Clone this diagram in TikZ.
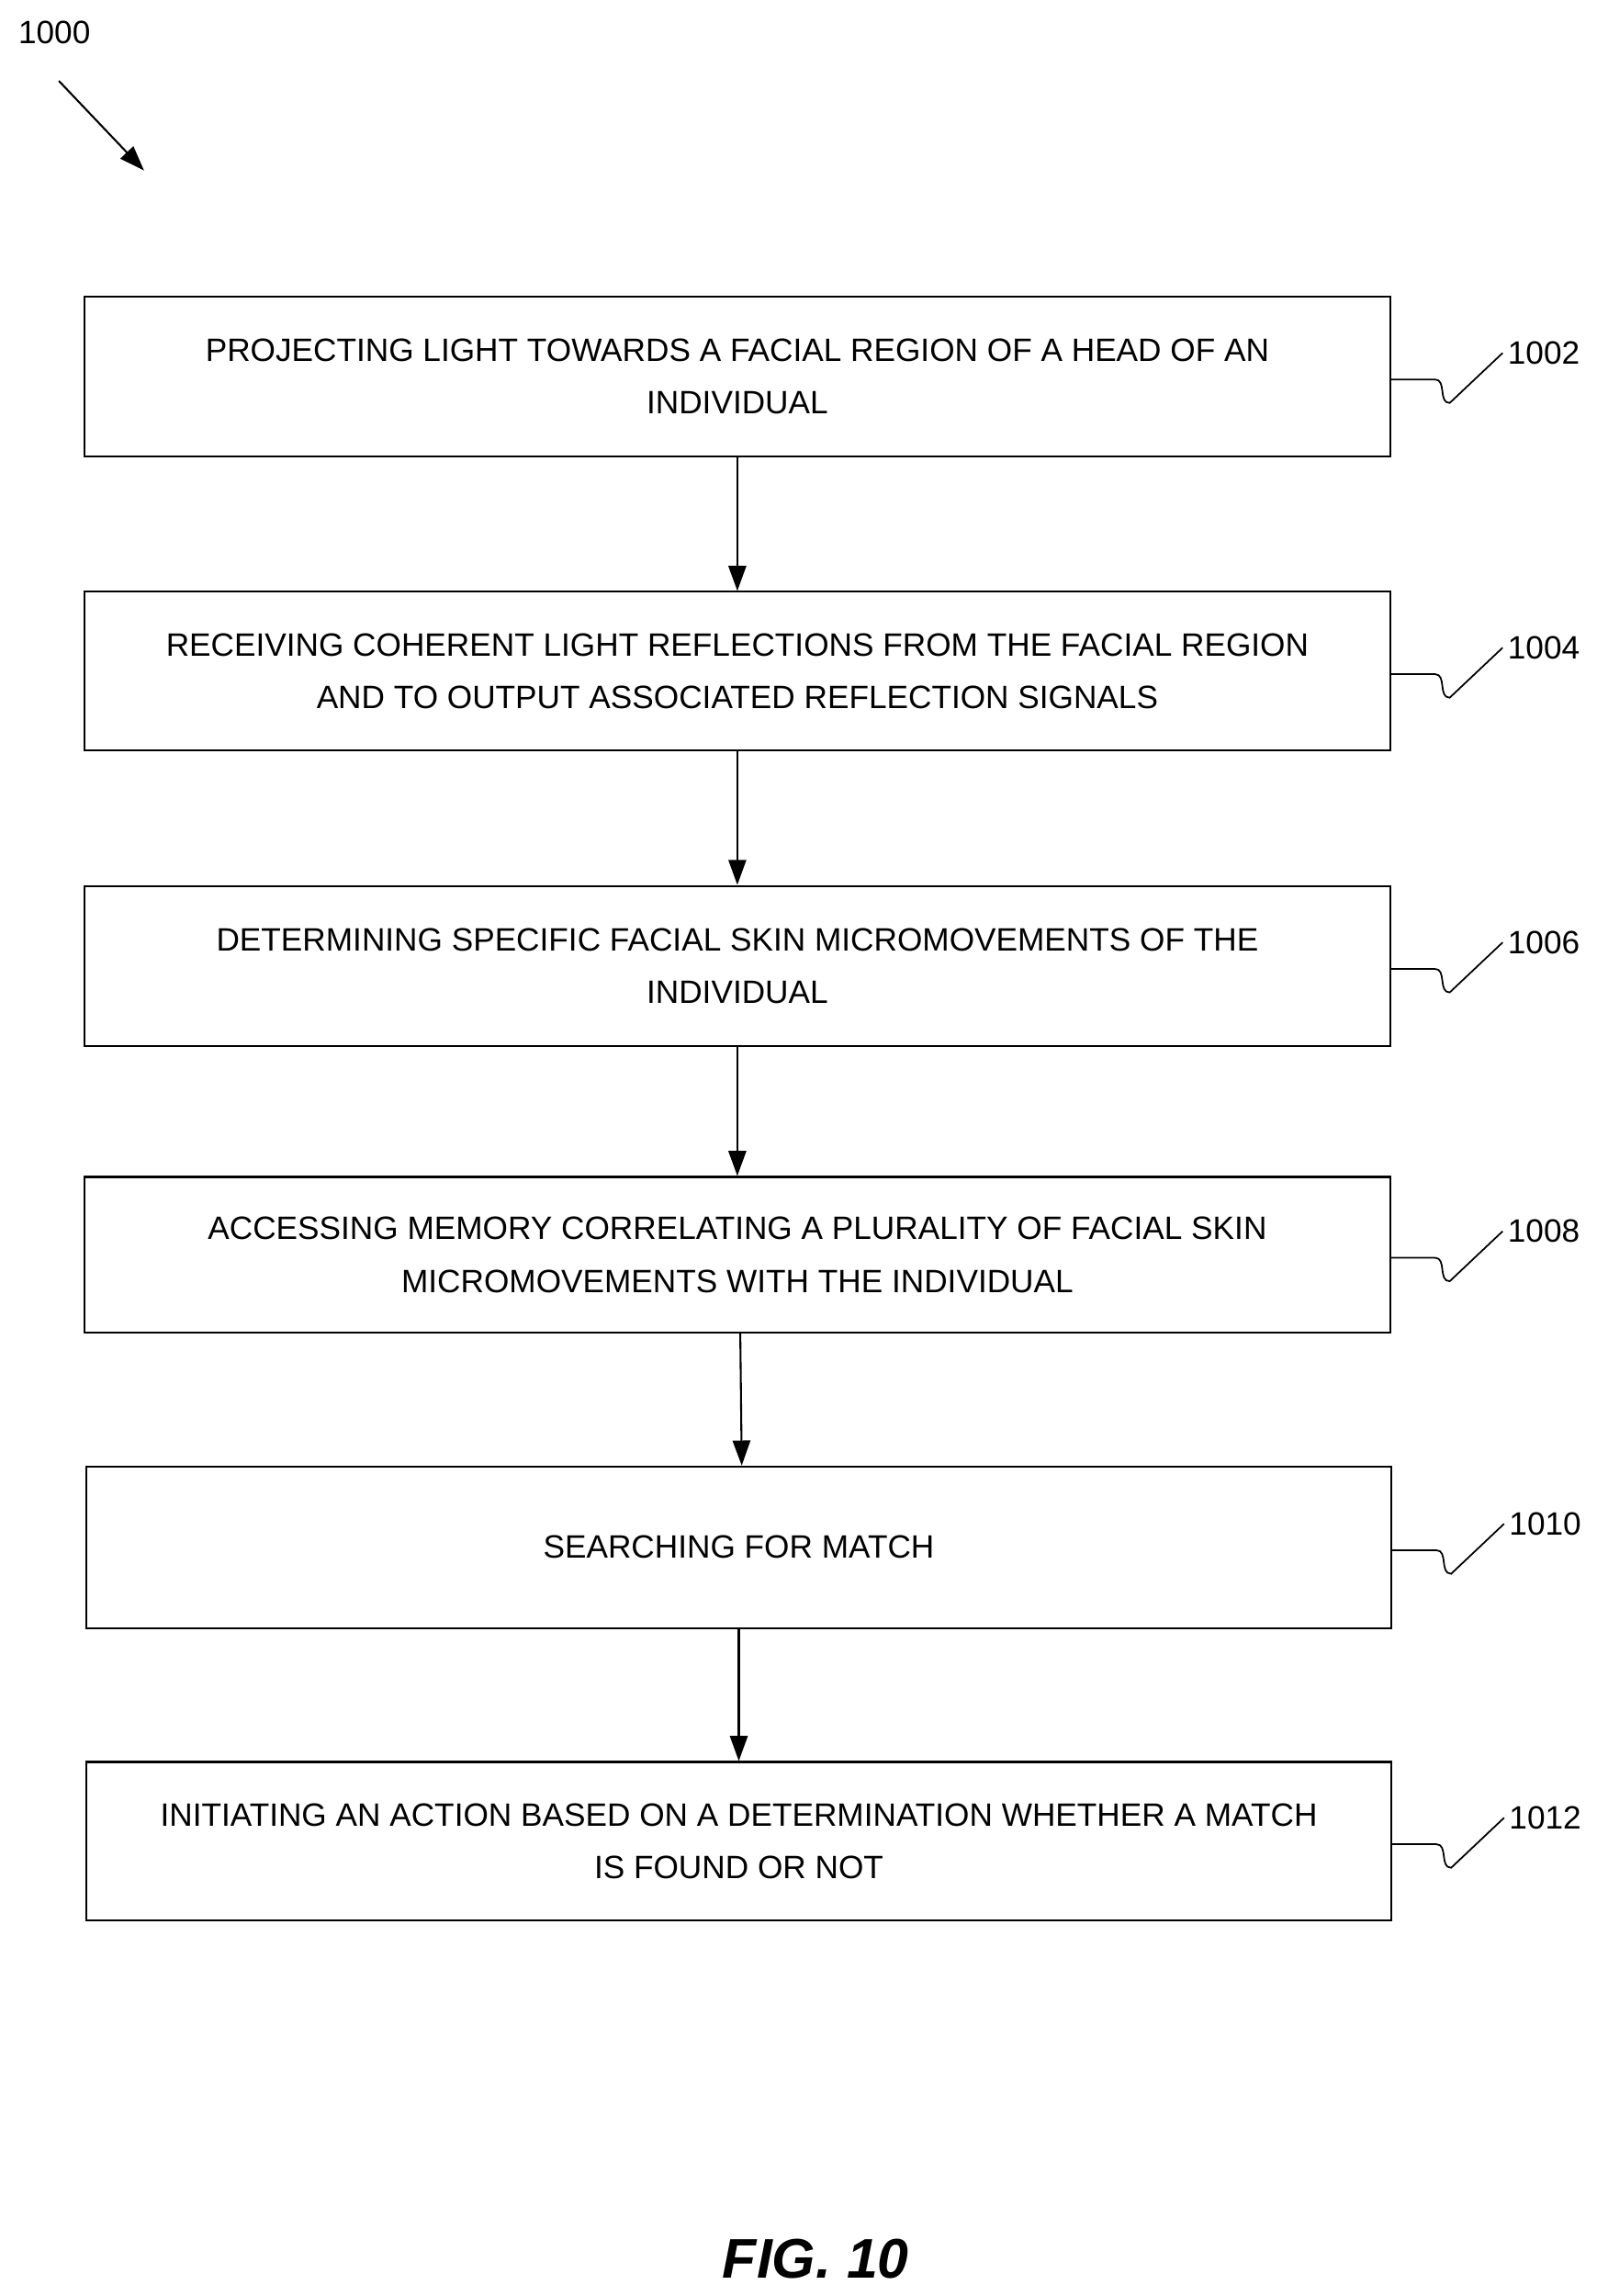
\documentclass[tikz,border=0pt]{standalone}
\usepackage{fontspec}
\setmainfont{Liberation Sans}
\usetikzlibrary{arrows.meta}
\begin{document}
\begin{tikzpicture}[x=1pt,y=-1pt,
  box/.style={draw,line width=1.3pt,minimum width=888pt,anchor=north west,inner sep=0pt,align=center,font=\fontsize{22}{36}\selectfont},
  lbl/.style={font=\fontsize{22}{26}\selectfont,anchor=west},
  arr/.style={line width=1.3pt,-{Triangle[length=17pt,width=12pt]}},
  lead/.style={line width=1.1pt}]
\useasboundingbox (0,0) rectangle (1086,1562);
\node[font=\fontsize{22}{26}\selectfont] (n1000) at (37,22) {1000};
\coordinate (a0) at (40,55); \coordinate (a1) at (98,116);
\draw[arr] (a0) -- (a1);
\def\mk#1#2#3#4#5{%
  \node[box,minimum height=#3pt] (b#1) at (#2) {#4};
  \coordinate (e#1) at ([yshift=-2pt]b#1.east);
  \node[lbl] (l#1) at ([xshift=76pt,yshift=16pt]b#1.east) {#5};
  \draw[lead] (e#1) -- ++(30,0) .. controls ++(8,0) and ++(-8,0) .. ++(10,16) -- (l#1.west);}
\mk{1}{57,201}{109}{PROJECTING LIGHT TOWARDS A FACIAL REGION OF A HEAD OF AN\\INDIVIDUAL}{1002}
\mk{2}{57,402}{108}{RECEIVING COHERENT LIGHT REFLECTIONS FROM THE FACIAL REGION\\AND TO OUTPUT ASSOCIATED REFLECTION SIGNALS}{1004}
\mk{3}{57,602}{109}{DETERMINING SPECIFIC FACIAL SKIN MICROMOVEMENTS OF THE\\INDIVIDUAL}{1006}
\mk{4}{57,800}{106}{ACCESSING MEMORY CORRELATING A PLURALITY OF FACIAL SKIN\\MICROMOVEMENTS WITH THE INDIVIDUAL}{1008}
\mk{5}{58,997}{110}{SEARCHING FOR MATCH}{1010}
\mk{6}{58,1198}{108}{INITIATING AN ACTION BASED ON A DETERMINATION WHETHER A MATCH\\IS FOUND OR NOT}{1012}
\draw[arr] (b1.south) -- (b2.north);
\draw[arr] (b2.south) -- (b3.north);
\draw[arr] (b3.south) -- (b4.north);
\draw[arr] ([xshift=2pt]b4.south) -- ([xshift=2pt]b5.north);
\draw[arr] (b5.south) -- (b6.north);
\node[font=\fontsize{38}{44}\selectfont\bfseries\itshape] (fig) at (555,1537) {FIG. 10};
\end{tikzpicture}
\end{document}
